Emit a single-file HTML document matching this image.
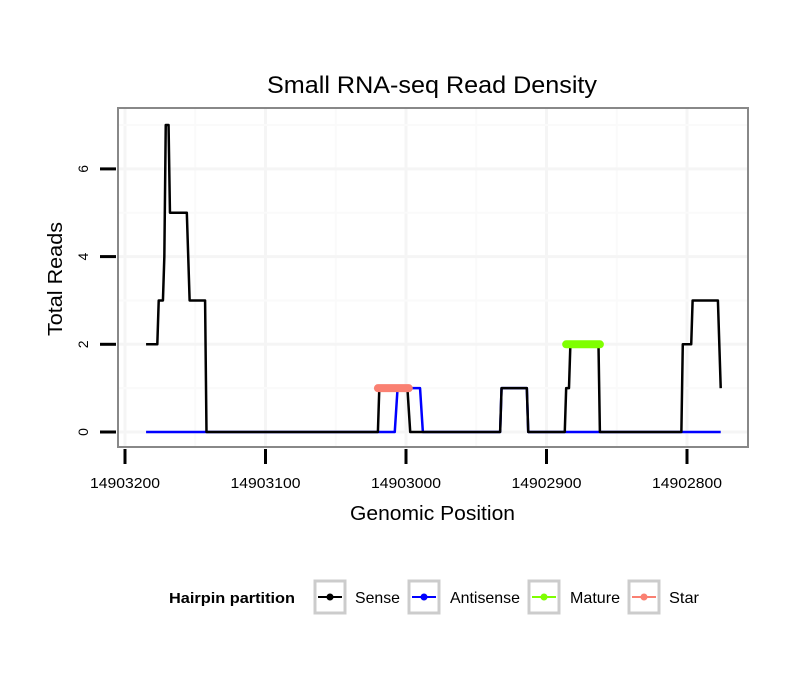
<!DOCTYPE html>
<html><head><meta charset="utf-8"><style>
body{margin:0;background:#fff;}
svg text{font-family:"Liberation Sans",sans-serif;}
</style></head><body>
<svg id="chart" width="810" height="690" xmlns="http://www.w3.org/2000/svg">
<rect width="810" height="690" fill="#fff"/>
<text x="267" y="93" font-size="24" textLength="330" lengthAdjust="spacingAndGlyphs">Small RNA-seq Read Density</text>
<g id="grid"></g>
<g id="series"></g>
<rect x="118" y="108" width="630" height="339" fill="none" stroke="#888" stroke-width="2"/>
<g id="axes"></g>
<text x="350" y="520" font-size="20" textLength="165" lengthAdjust="spacingAndGlyphs">Genomic Position</text>
<text transform="translate(62,336) rotate(-90)" font-size="20" textLength="114" lengthAdjust="spacingAndGlyphs">Total Reads</text>
<g>
<text x="169" y="603" font-size="15" font-weight="bold" textLength="126" lengthAdjust="spacingAndGlyphs">Hairpin partition</text>
<g>
<rect x="315" y="581" width="30" height="32" fill="#fff" stroke="#ccc" stroke-width="3"/>
<line x1="318" y1="597" x2="342" y2="597" stroke="#000" stroke-width="2"/><circle cx="330" cy="597" r="3.5" fill="#000"/>
<text x="355" y="603" font-size="16" textLength="45" lengthAdjust="spacingAndGlyphs">Sense</text></g>
<g>
<rect x="409" y="581" width="30" height="32" fill="#fff" stroke="#ccc" stroke-width="3"/>
<line x1="412" y1="597" x2="436" y2="597" stroke="#0000ff" stroke-width="2"/><circle cx="424" cy="597" r="3.5" fill="#0000ff"/>
<text x="450" y="603" font-size="16" textLength="70" lengthAdjust="spacingAndGlyphs">Antisense</text></g>
<g>
<rect x="529" y="581" width="30" height="32" fill="#fff" stroke="#ccc" stroke-width="3"/>
<line x1="532" y1="597" x2="556" y2="597" stroke="#7fff00" stroke-width="2"/><circle cx="544" cy="597" r="3.5" fill="#7fff00"/>
<text x="570" y="603" font-size="16" textLength="50" lengthAdjust="spacingAndGlyphs">Mature</text></g>
<g>
<rect x="629" y="581" width="30" height="32" fill="#fff" stroke="#ccc" stroke-width="3"/>
<line x1="632" y1="597" x2="656" y2="597" stroke="#fa8072" stroke-width="2"/><circle cx="644" cy="597" r="3.5" fill="#fa8072"/>
<text x="669" y="603" font-size="16" textLength="30" lengthAdjust="spacingAndGlyphs">Star</text></g>
</g>
</svg>
<script>
const xTicks=[14903200,14903100,14903000,14902900,14902800];
const yTicks=[0,2,4,6];
const senseX=[14903185,14903177,14903176,14903173,14903172,14903171,14903169,14903168,14903156,14903154,14903143,14903142,14903020,14903019,14902999,14902997,14902933,14902932,14902914,14902913,14902887,14902886,14902884,14902883,14902863,14902862,14902804,14902803,14902797,14902796,14902778,14902776];
const senseY=[2,2,3,3,4,7,7,5,5,3,3,0,0,1,1,0,0,1,1,0,0,1,1,2,2,0,0,2,2,3,3,1];
const antiX=[14903185,14903008,14903006,14902990,14902988,14902933,14902932,14902914,14902913,14902776];
const antiY=[0,0,1,1,0,0,1,1,0,0];
const starRange=[14903020,14902998];const starY=1;
const matureRange=[14902886,14902862];const matureY=2;
const NS="http://www.w3.org/2000/svg";
function X(g){return 125+(14903200-g)*1.405;}
function Y(v){return 432-v*43.85;}
function mk(t,a,p){const e=document.createElementNS(NS,t);for(const k in a)e.setAttribute(k,a[k]);p.appendChild(e);return e;}
const grid=document.getElementById('grid'),ser=document.getElementById('series'),ax=document.getElementById('axes');
for(let i=0;i<xTicks.length;i++){
 const l=mk('line',{x1:X(xTicks[i]),x2:X(xTicks[i]),y1:108,y2:447,stroke:'#f5f5f5','stroke-width':3},grid);
 
 
 if(i<xTicks.length-1){const m=(xTicks[i]+xTicks[i+1])/2;const l2=mk('line',{x1:X(m),x2:X(m),y1:108,y2:447,stroke:'#fafafa','stroke-width':2},grid);
 
 }
 const t=mk('line',{x1:X(xTicks[i]),x2:X(xTicks[i]),y1:449,y2:464,stroke:'#000','stroke-width':3},ax);
 
 
 const tx=mk('text',{x:X(xTicks[i])-35,y:488,'font-size':15,textLength:70,lengthAdjust:'spacingAndGlyphs'},ax);tx.textContent=xTicks[i];
 
 
}
for(const v of [1,3,5,7]){const l=mk('line',{x1:118,x2:748,y1:Y(v),y2:Y(v),stroke:'#fafafa','stroke-width':2},grid);
 
 }
for(const v of yTicks){
 const l=mk('line',{x1:118,x2:748,y1:Y(v),y2:Y(v),stroke:'#f5f5f5','stroke-width':3},grid);
 
 
 const t=mk('line',{x1:100,x2:116,y1:Y(v),y2:Y(v),stroke:'#000','stroke-width':3},ax);
 
 
 const tx=mk('text',{transform:`translate(88,${Y(v)}) rotate(-90)`,'font-size':14,'text-anchor':'middle'},ax);tx.textContent=v;
 
 
}
function poly(xs,ys,c,w,name){const p=mk('polyline',{points:xs.map((g,i)=>X(g)+','+Y(ys[i])).join(' '),fill:'none',stroke:c,'stroke-width':w,'stroke-linejoin':'round'},ser);
 
 }
poly(antiX,antiY,'#0000ff',2.5,'antisense-line');
poly(senseX,senseY,'#000',2.5,'sense-line');
const s=mk('line',{x1:X(starRange[0]),x2:X(starRange[1]),y1:Y(starY),y2:Y(starY),stroke:'#fa8072','stroke-width':8,'stroke-linecap':'round'},ser);


const m=mk('line',{x1:X(matureRange[0]),x2:X(matureRange[1]),y1:Y(matureY),y2:Y(matureY),stroke:'#7fff00','stroke-width':8,'stroke-linecap':'round'},ser);


</script>
</body></html>
